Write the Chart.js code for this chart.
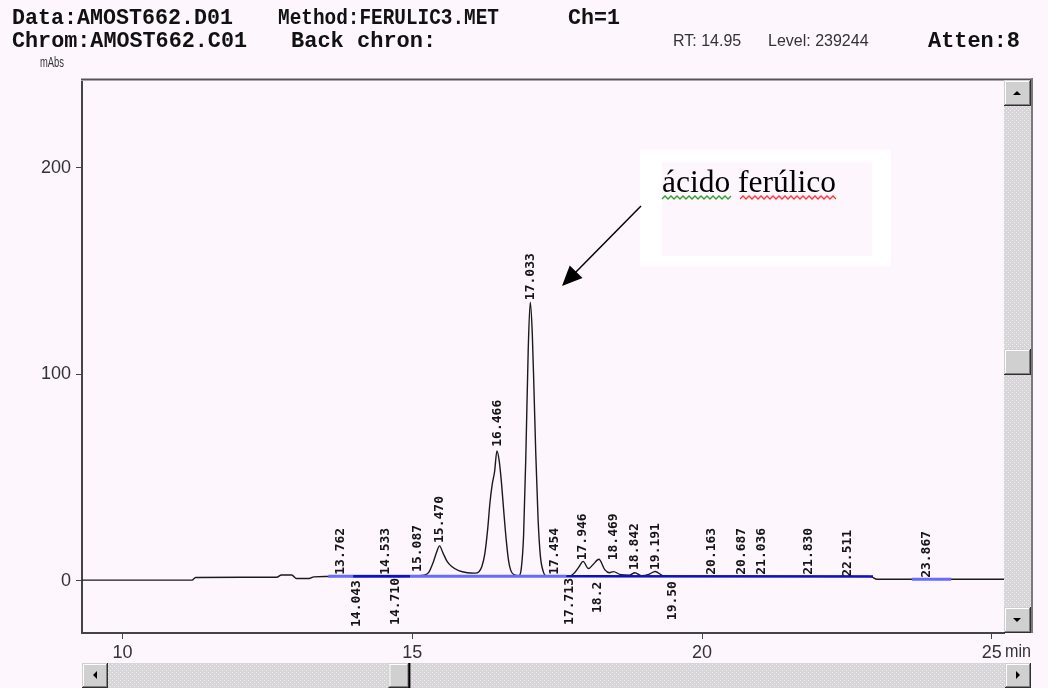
<!DOCTYPE html>
<html>
<head>
<meta charset="utf-8">
<script src="https://cdn.jsdelivr.net/npm/chart.js@4.4.1/dist/chart.umd.min.js"></script>
<style>
html, body { margin: 0; padding: 0; background: #fdf7fd; }
canvas { display: block; }
</style>
</head>
<body>
<canvas id="chrom" width="1048" height="688"></canvas>
<script>
// detector trace (min / mAbs)
const traceTime = [9.30, 11.20, 11.26, 12.66, 12.74, 12.92, 13.00, 13.22, 13.30, 13.76, 14.04, 14.53, 14.71, 15.09, 15.20, 15.28,
  15.36, 15.42, 15.47, 15.53, 15.60, 15.68, 15.80, 15.95, 16.08, 16.15, 16.20, 16.25, 16.30, 16.34, 16.38, 16.42, 16.46,
  16.50, 16.54, 16.58, 16.62, 16.66, 16.70, 16.76, 16.84, 16.88, 16.92, 16.96, 17.00, 17.035, 17.07, 17.10, 17.13, 17.17, 17.21,
  17.26, 17.31, 17.71, 17.80, 17.88, 17.946, 18.04, 18.12, 18.22, 18.32, 18.40, 18.47, 18.60, 18.75, 18.84, 18.95, 19.08,
  19.19, 19.32, 19.50, 22.90, 23.02, 25.30];
const traceAbs = [0.4, 0.4, 1.7, 1.8, 2.9, 2.9, 1.2, 1.2, 2.0, 2.3, 2.1, 2.3, 2.1, 2.5, 2.8, 4,
  9, 14, 17, 13.5, 9.5, 7, 5, 4, 3.8, 4.5, 7, 13, 25, 38, 47, 53, 63,
  58, 47, 33, 20, 10, 5, 3, 2.6, 6, 22, 62, 112, 135, 120, 92, 62, 30, 12,
  4.5, 2.4, 2.3, 4, 7, 9.5, 6, 8, 10.5, 5.5, 4, 4.5, 3, 2.8, 4, 2.6, 3.2,
  4.6, 2.6, 2.3, 2.2, 0.8, 0.8];

// integration baselines, null = gap
const baseTime = [13.55, 17.66, 17.67, 23.62, 24.30];
const baseAbs = [2.3, 2.3, null, 0.8, 0.8];
const darkBaseTime = [13.98, 14.96, 14.97, 17.66, 22.95];
const darkBaseAbs = [2.3, 2.3, null, 2.3, 2.2];

// peak retention-time labels and the level where each label starts
const peakNames = ['13.762', '14.043', '14.533', '14.710', '15.087', '15.470', '16.466', '17.033', '17.454', '17.713', '17.946',
  '18.2', '18.469', '18.842', '19.191', '19.50', '20.163', '20.687', '21.036', '21.830', '22.511', '23.867'];
const peakTimes = [13.762, 14.043, 14.533, 14.710, 15.087, 15.470, 16.466, 17.033, 17.454, 17.713, 17.946,
  18.2, 18.469, 18.842, 19.191, 19.50, 20.163, 20.687, 21.036, 21.830, 22.511, 23.867];
const peakLabelAt = [3, -22.3, 3, -21.3, 4.4, 18.4, 65, 136, 3, -21.3, 10,
  -15.5, 10, 5.3, 5.3, -19, 3, 3, 3, 3, 2, 1.5];

const xTicks = [10, 15, 20, 25];
const yTicks = [0, 100, 200];
const cursorRT = 14.95;

const BG = '#fdf7fd';

function bevel(ctx, x, y, w, h) {
  ctx.fillStyle = '#d0d0d0';
  ctx.fillRect(x, y, w, h);
  ctx.fillStyle = '#ffffff';
  ctx.fillRect(x + 1, y + 1, w - 3, 1);
  ctx.fillRect(x + 1, y + 1, 1, h - 3);
  ctx.fillStyle = '#808080';
  ctx.fillRect(x + 1, y + h - 2, w - 2, 1);
  ctx.fillRect(x + w - 2, y + 1, 1, h - 2);
  ctx.fillStyle = '#303030';
  ctx.fillRect(x, y + h - 1, w, 1);
  ctx.fillRect(x + w - 1, y, 1, h);
}

function arrowGlyph(ctx, cx, cy, dir) {
  ctx.fillStyle = '#000';
  ctx.beginPath();
  if (dir === 'up') { ctx.moveTo(cx - 4, cy + 2); ctx.lineTo(cx + 4, cy + 2); ctx.lineTo(cx, cy - 2); }
  if (dir === 'down') { ctx.moveTo(cx - 4, cy - 2); ctx.lineTo(cx + 4, cy - 2); ctx.lineTo(cx, cy + 2); }
  if (dir === 'left') { ctx.moveTo(cx + 2, cy - 4); ctx.lineTo(cx + 2, cy + 4); ctx.lineTo(cx - 2, cy); }
  if (dir === 'right') { ctx.moveTo(cx - 2, cy - 4); ctx.lineTo(cx - 2, cy + 4); ctx.lineTo(cx + 2, cy); }
  ctx.closePath();
  ctx.fill();
}

function trackPattern(ctx) {
  const c = document.createElement('canvas');
  c.width = 4; c.height = 4;
  const p = c.getContext('2d');
  p.fillStyle = '#d8d5d8';
  p.fillRect(0, 0, 4, 4);
  p.fillStyle = '#f2f0f2';
  p.fillRect(0, 0, 1, 1);
  p.fillRect(2, 2, 1, 1);
  return ctx.createPattern(c, 'repeat');
}

function wavy(ctx, x0, x1, y, color) {
  ctx.strokeStyle = color;
  ctx.lineWidth = 1.3;
  ctx.beginPath();
  let up = true;
  ctx.moveTo(x0, y);
  for (let x = x0 + 3; x <= x1; x += 3) {
    ctx.lineTo(x, up ? y - 3 : y);
    up = !up;
  }
  ctx.stroke();
}

const frame = {
  id: 'frame',
  beforeDraw(chart) {
    const ctx = chart.ctx;
    ctx.save();
    ctx.fillStyle = BG;
    ctx.fillRect(0, 0, chart.width, chart.height);

    ctx.fillStyle = '#111';
    ctx.textBaseline = 'alphabetic';
    ctx.font = 'bold 22px "Liberation Mono"';
    ctx.fillText('Data:AMOST662.D01', 12, 24, 221);
    ctx.fillText('Method:FERULIC3.MET', 278, 24, 221);
    ctx.fillText('Ch=1', 568, 24, 52);
    ctx.fillText('Chrom:AMOST662.C01', 12, 47, 235);
    ctx.fillText('Back chron:', 291, 47, 146);
    ctx.fillText('Atten:8', 928, 47, 92);

    ctx.fillStyle = '#333';
    ctx.font = '16px "Liberation Sans"';
    ctx.fillText('RT: 14.95', 673, 46, 77);
    ctx.fillText('Level: 239244', 768, 46, 125);
    ctx.font = '14px "Liberation Sans"';
    ctx.fillText('mAbs', 40, 67, 24);
    ctx.restore();
  },
  afterDraw(chart) {
    const ctx = chart.ctx;
    const { top, bottom, left, right } = chart.chartArea;
    const x = chart.scales.x;
    ctx.save();

    // top frame edge
    ctx.fillStyle = '#a8a8a8';
    ctx.fillRect(left - 1, top - 2, 1032 - left, 3);
    ctx.fillStyle = '#555';
    ctx.fillRect(left - 1, top - 1, 1032 - left, 1);

    // vertical scrollbar
    const pat = trackPattern(ctx);
    ctx.fillStyle = pat;
    ctx.fillRect(right, top, 27, bottom - top);
    ctx.fillStyle = '#7a7a7a';
    ctx.fillRect(right + 27, top - 2, 2, bottom - top + 2);
    bevel(ctx, right, top, 27, 26);
    arrowGlyph(ctx, right + 13, top + 13, 'up');
    bevel(ctx, right, bottom - 26, 27, 26);
    arrowGlyph(ctx, right + 13, bottom - 13, 'down');
    bevel(ctx, right, 349, 27, 26);

    // horizontal scrollbar
    ctx.fillStyle = pat;
    ctx.fillRect(left, 663, 1031 - left, 25);
    bevel(ctx, left, 663, 26, 25);
    arrowGlyph(ctx, left + 13, 675, 'left');
    bevel(ctx, 1005, 663, 26, 25);
    arrowGlyph(ctx, 1018, 675, 'right');
    const cx = x.getPixelForValue(cursorRT);
    bevel(ctx, cx - 21, 663, 21, 25);
    ctx.fillStyle = '#000';
    ctx.fillRect(cx - 1, 663, 2, 25);

    // "min" unit
    ctx.fillStyle = '#333';
    ctx.font = '18px "Liberation Sans"';
    ctx.textBaseline = 'middle';
    ctx.fillText('min', 1005, 652, 26);

    // annotation
    ctx.fillStyle = '#ffffff';
    ctx.fillRect(640, 150, 251, 116);
    ctx.fillStyle = BG;
    ctx.fillRect(662, 162, 210, 94);
    ctx.fillStyle = '#000';
    ctx.textBaseline = 'alphabetic';
    ctx.font = '24px "Liberation Serif"';
    const w = ctx.measureText('ácido ferúlico').width;
    ctx.font = (24 * 174 / w).toFixed(1) + 'px "Liberation Serif"';
    ctx.fillText('ácido ferúlico', 662, 192);
    wavy(ctx, 662, 731, 199, '#2aa02a');
    wavy(ctx, 740, 837, 199, '#ff3030');

    // arrow to the ferulic acid peak
    ctx.strokeStyle = '#000';
    ctx.lineWidth = 1.5;
    ctx.beginPath();
    ctx.moveTo(641, 206);
    ctx.lineTo(572, 276);
    ctx.stroke();
    const ang = Math.atan2(286 - 206, 562 - 641);
    ctx.beginPath();
    ctx.moveTo(562, 286);
    ctx.lineTo(562 - 22 * Math.cos(ang - 0.42), 286 - 22 * Math.sin(ang - 0.42));
    ctx.lineTo(562 - 22 * Math.cos(ang + 0.42), 286 - 22 * Math.sin(ang + 0.42));
    ctx.closePath();
    ctx.fillStyle = '#000';
    ctx.fill();
    ctx.restore();
  }
};

const peakLabels = {
  id: 'peakLabels',
  afterDatasetsDraw(chart) {
    const { ctx, scales: { x, y } } = chart;
    ctx.save();
    ctx.font = 'bold 13px "DejaVu Sans Mono"';
    ctx.fillStyle = '#151515';
    ctx.textBaseline = 'middle';
    ctx.textAlign = 'left';
    peakNames.forEach((name, i) => {
      ctx.save();
      ctx.translate(x.getPixelForValue(peakTimes[i]), y.getPixelForValue(peakLabelAt[i]));
      ctx.rotate(-Math.PI / 2);
      ctx.fillText(name, 0, 0);
      ctx.restore();
    });
    ctx.restore();
  }
};

const toPoints = (xs, ys) => xs.map((t, i) => ({ x: t, y: ys[i] }));

const axisFont = { family: 'Liberation Sans', size: 18 };

new Chart(document.getElementById('chrom').getContext('2d'), {
  type: 'line',
  data: {
    datasets: [
      {
        label: 'dark baseline',
        data: toPoints(darkBaseTime, darkBaseAbs),
        borderColor: '#1010c0',
        borderWidth: 2.5,
        pointRadius: 0,
        order: 1
      },
      {
        label: 'baseline',
        data: toPoints(baseTime, baseAbs),
        borderColor: '#6a6aff',
        borderWidth: 3,
        pointRadius: 0,
        order: 2
      },
      {
        label: 'signal',
        data: toPoints(traceTime, traceAbs),
        borderColor: '#1a1a1a',
        borderWidth: 1.4,
        pointRadius: 0,
        cubicInterpolationMode: 'monotone',
        order: 3
      }
    ]
  },
  options: {
    responsive: false,
    animation: false,
    devicePixelRatio: 1,
    layout: { padding: { left: 0, top: 80, right: 44, bottom: 0 } },
    plugins: { legend: { display: false }, tooltip: { enabled: false } },
    scales: {
      x: {
        type: 'linear',
        min: 9.30,
        max: 25.21,
        afterBuildTicks: s => { s.ticks = xTicks.map(v => ({ value: v })); },
        afterFit: s => { s.height = 55; },
        ticks: { font: axisFont, color: '#333', padding: 3, maxRotation: 0 },
        grid: { drawOnChartArea: false, tickLength: 6, color: '#444', tickColor: '#444' },
        border: { color: '#444', width: 2 }
      },
      y: {
        type: 'linear',
        min: -25.2,
        max: 242.6,
        afterBuildTicks: s => { s.ticks = yTicks.map(v => ({ value: v })); },
        afterFit: s => { s.width = 82; },
        ticks: { font: axisFont, color: '#333', padding: 5 },
        grid: { drawOnChartArea: false, tickLength: 6, color: '#444', tickColor: '#444' },
        border: { color: '#444', width: 2 }
      }
    }
  },
  plugins: [frame, peakLabels]
});
</script>
</body>
</html>
